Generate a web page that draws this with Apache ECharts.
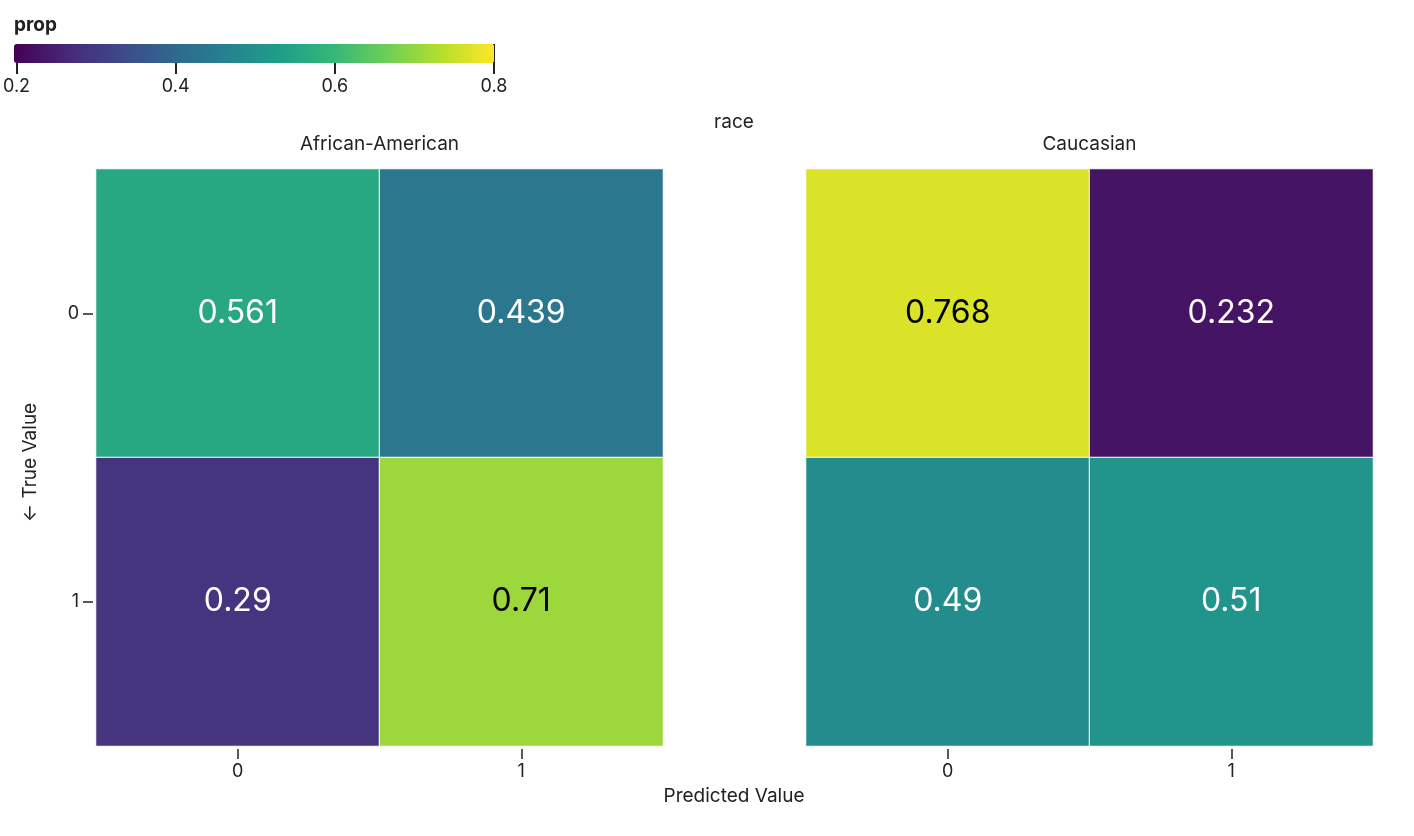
<!DOCTYPE html>
<html><head><meta charset="utf-8">
<script src="https://cdn.jsdelivr.net/npm/echarts@6/dist/echarts.min.js"></script>
<style>html,body{margin:0;padding:0;background:#fff}#c{width:1414px;height:836px}</style>
</head><body><div id="c"></div>
<script>
const panels = ['African-American', 'Caucasian'];
const predCats = ['0', '1'];
const trueCats = ['0', '1'];
// [predicted index, true index, value]
const aaValues = [[0, 0, 0.561], [1, 0, 0.439], [0, 1, 0.29], [1, 1, 0.71]];
const caValues = [[0, 0, 0.768], [1, 0, 0.232], [0, 1, 0.49], [1, 1, 0.51]];
const legendTicks = [0.2, 0.4, 0.6, 0.8];
const viridis = ['#440154','#482878','#3e4989','#31688e','#26828e','#1f9e89','#35b779','#6ece58','#b5de2b','#fde725'];

const FONT = 'Inter, "Noto Sans", sans-serif';
const TXT = '#222';
const chart = echarts.init(document.getElementById('c'), null, {renderer: 'canvas'});
const gridW = 567, gridTop = 169, gridH = 577;
const lefts = [96, 806];

function catX(i) {
  return {gridIndex: i, type: 'category', data: predCats, offset: 3,
    axisLine: {show: false}, axisTick: {show: true, length: 10, alignWithLabel: true, lineStyle: {color: TXT, width: 1.5}},
    axisLabel: {fontFamily: FONT, fontSize: 18, color: TXT, margin: 14}, splitLine: {show: false}};
}
function catY(i) {
  return {gridIndex: i, type: 'category', data: trueCats, inverse: true, offset: 3,
    axisLine: {show: false}, axisTick: {show: i === 0, length: 10, alignWithLabel: true, lineStyle: {color: TXT, width: 1.5}},
    axisLabel: {show: i === 0, fontFamily: FONT, fontSize: 18, color: TXT, margin: 14}, splitLine: {show: false}};
}
function heat(i, data) {
  return {type: 'heatmap', xAxisIndex: i, yAxisIndex: i, data: data,
    itemStyle: {borderColor: '#fff', borderWidth: 1},
    label: {show: true, fontFamily: FONT, fontSize: 32,
      formatter: p => String(p.value[2]),
      color: '#fff'},
    emphasis: {disabled: true}};
}
const s0 = heat(0, aaValues.map(d => ({value: d, label: {color: d[2] > 0.65 ? '#000' : '#fff'}})));
const s1 = heat(1, caValues.map(d => ({value: d, label: {color: d[2] > 0.65 ? '#000' : '#fff'}})));
const tStyle = {fontFamily: FONT, fontSize: 19, fontWeight: 'normal', color: TXT};

chart.setOption({
  animation: false,
  backgroundColor: '#fff',
  title: [
    {text: 'race', left: 734, top: 113, padding: 0, textAlign: 'center', textStyle: tStyle},
    {text: panels[0], left: lefts[0] + gridW / 2, top: 135, padding: 0, textAlign: 'center', textStyle: tStyle},
    {text: panels[1], left: lefts[1] + gridW / 2, top: 135, padding: 0, textAlign: 'center', textStyle: tStyle},
    {text: 'Predicted Value', left: 734, top: 787, padding: 0, textAlign: 'center', textStyle: tStyle},
    {text: 'prop', left: 14, top: 16, padding: 0, textStyle: {fontFamily: FONT, fontSize: 19, fontWeight: 'bold', color: TXT}}
  ],
  graphic: [
    {type: 'text', rotation: Math.PI / 2, x: 21, y: 522,
      style: {text: '← True Value', fontFamily: FONT, fontSize: 19, fill: TXT}}
  ],
  visualMap: {type: 'continuous', min: 0.2, max: 0.8, orient: 'horizontal', left: 14, top: 44,
    itemWidth: 19, itemHeight: 480, padding: 0, calculable: false, text: null, show: true,
    inRange: {color: viridis}, seriesIndex: [0, 1]},
  grid: [
    {left: lefts[0], top: gridTop, width: gridW, height: gridH},
    {left: lefts[1], top: gridTop, width: gridW, height: gridH},
    {left: 14, top: 44, width: 480, height: 19}
  ],
  xAxis: [catX(0), catX(1),
    {gridIndex: 2, type: 'value', min: 0.2, max: 0.8, interval: 0.2,
      axisLine: {show: false}, axisTick: {show: true, length: 11, lineStyle: {color: TXT, width: 2}},
      splitLine: {show: true, lineStyle: {color: TXT, width: 2}},
      axisLabel: {fontFamily: FONT, fontSize: 18, color: TXT, margin: 15, formatter: v => v.toFixed(1),
        showMinLabel: true, showMaxLabel: true}}],
  yAxis: [catY(0), catY(1),
    {gridIndex: 2, type: 'value', show: false, min: 0, max: 1}],
  series: [s0, s1]
});
</script></body></html>
